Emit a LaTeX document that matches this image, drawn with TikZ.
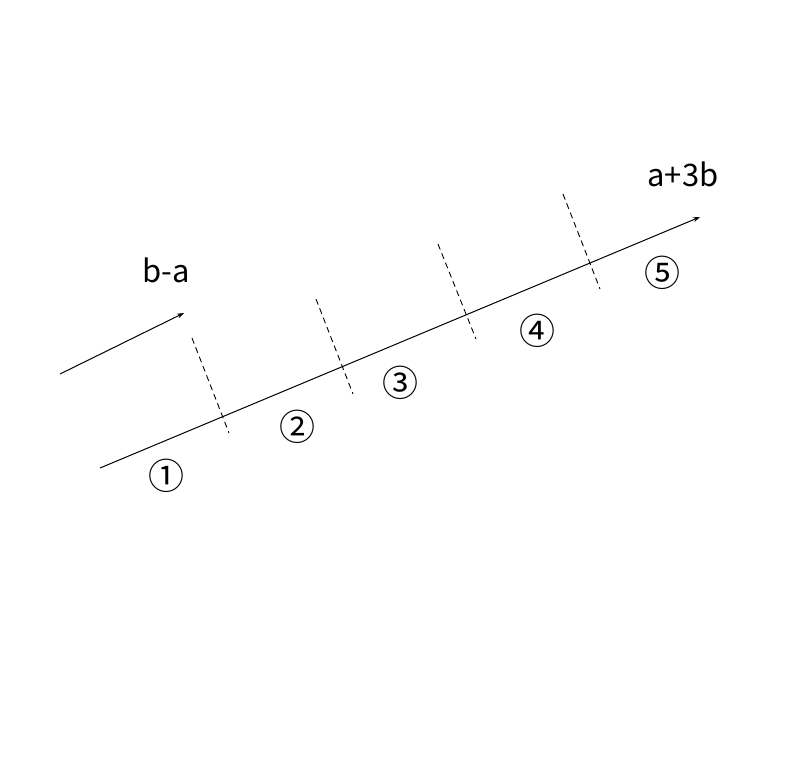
\documentclass[tikz,border=0pt]{standalone}
\usepackage{fontspec}
\setmainfont{Noto Sans CJK JP}
\usetikzlibrary{arrows.meta}
\begin{document}
\begin{tikzpicture}[
        x=1pt, y=-1pt,
        vec/.style={line width=1pt,-{Stealth[length=7pt,width=5pt]}},
        cut/.style={line width=0.9pt,dash pattern=on 6pt off 4pt},
        lab/.style={anchor=base,inner sep=0pt,font=\fontsize{31}{31}\selectfont},
        num/.style={inner sep=0pt,font=\fontsize{36}{36}\selectfont},
        ]
    \useasboundingbox (0,0) rectangle (800,768);
    % vectors
    \coordinate (s0) at (60,374);
    \coordinate (s1) at (184,313);
    \coordinate (m0) at (100,468);
    \coordinate (m1) at (700,217);
    \draw [vec] (s0) -- (s1);
    \draw [vec] (m0) -- (m1);
    % dashed cuts
    \coordinate (t1) at (192,338);
    \coordinate (u1) at (229,433);
    \coordinate (t2) at (316,299);
    \coordinate (u2) at (353,394);
    \coordinate (t3) at (438,244);
    \coordinate (u3) at (476,339);
    \coordinate (t4) at (563,194);
    \coordinate (u4) at (600,289);
    \draw [cut] (t1) -- (u1);
    \draw [cut] (t2) -- (u2);
    \draw [cut] (t3) -- (u3);
    \draw [cut] (t4) -- (u4);
    % labels
    \node [lab] (ba) at (166,282) {b-a};
    \node [lab] (ab) at (683,186) {a+3b};
    \node [num] (n1) at (166,476) {①};
    \node [num] (n2) at (297,427) {②};
    \node [num] (n3) at (400,383) {③};
    \node [num] (n4) at (537,331) {④};
    \node [num] (n5) at (662,273) {⑤};
\end{tikzpicture}
\end{document}
